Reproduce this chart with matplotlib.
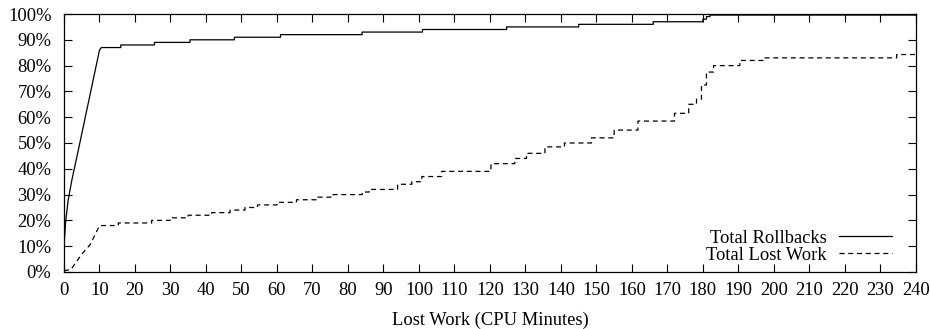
import numpy as np
import matplotlib
matplotlib.use("Agg")
import matplotlib.pyplot as plt
from matplotlib.ticker import FuncFormatter

# Total Rollbacks: steep initial ramp, then a staircase
rb_ramp_x = [0, 0.5, 1.2, 2.2, 4, 6, 8, 10]
rb_ramp_y = [10, 20, 28, 35.5, 47, 60, 73, 86]
rb_step_x = [10.5, 16, 25.5, 35.5, 48, 61, 84, 101, 124.7, 145, 166, 180, 181, 182]
rb_step_y = [87, 88, 89, 90, 91, 92, 93, 94, 95, 96, 97, 98, 99, 99.6]

# Total Lost Work
lw_ramp_x = [0, 2, 3.5, 5.2, 7.3, 8.6, 10]
lw_ramp_y = [0.5, 1, 4, 7.2, 10.5, 14, 18]
lw_step_x = [10, 15.3, 24.7, 29.9, 35, 41.6, 46.8, 51, 54.5, 60, 65.5, 71.5, 75.2,
             84, 86, 94, 98, 100.8, 106.4, 120.3, 127, 130.3, 135.5, 141, 148.6,
             155, 161.7, 172, 176, 178.2, 179.6, 181, 183, 190.4, 197, 234.6]
lw_step_y = [18, 19, 20, 21, 22, 23, 24, 25, 26, 27, 28, 29, 30,
             31, 32, 34, 35, 37, 39, 42, 44, 46, 48.5, 50, 52,
             55, 58.5, 61.5, 65, 67, 72.5, 77.5, 80, 82, 83, 84.3]

x_end = 240
x_ticks = list(range(0, 241, 10))
y_ticks = list(range(0, 101, 10))


def stairs(x, y, xend):
    xx = np.repeat(np.append(x, xend), 2)[1:-1]
    yy = np.repeat(y, 2)
    return xx, yy


plt.rcParams['font.family'] = ['Liberation Serif', 'DejaVu Serif']
plt.rcParams['font.size'] = 13.3

fig = plt.figure(figsize=(9.3, 3.29), dpi=100)
ax = fig.add_axes([0.0688, 0.1733, 0.916, 0.7841])

sx, sy = stairs(rb_step_x, rb_step_y, x_end)
ax.plot(np.concatenate([rb_ramp_x, sx]), np.concatenate([rb_ramp_y, sy]),
        color='black', lw=0.9, label='Total Rollbacks')

sx, sy = stairs(lw_step_x, lw_step_y, x_end)
ax.plot(np.concatenate([lw_ramp_x, sx]), np.concatenate([lw_ramp_y, sy]),
        color='black', lw=0.9, linestyle=(0, (4, 3)), label='Total Lost Work')

ax.set_xlim(0, 240)
ax.set_ylim(0, 100)
ax.set_xticks(x_ticks)
ax.set_yticks(y_ticks)
ax.yaxis.set_major_formatter(FuncFormatter(lambda v, p: f"{int(v)}%"))
ax.tick_params(direction='in', length=5.5, width=0.8, top=True, right=True)
ax.tick_params(axis='y', pad=9)
ax.tick_params(axis='x', pad=7)
for s in ax.spines.values():
    s.set_linewidth(0.9)

ax.set_xlabel('Lost Work (CPU Minutes)', labelpad=9)

ax.legend(loc='lower right', bbox_to_anchor=(0.981, 0.004), frameon=False,
          markerfirst=False, handlelength=2.9, handletextpad=0.65,
          labelspacing=0.0, borderaxespad=0)

fig.savefig('out.png', dpi=100)
